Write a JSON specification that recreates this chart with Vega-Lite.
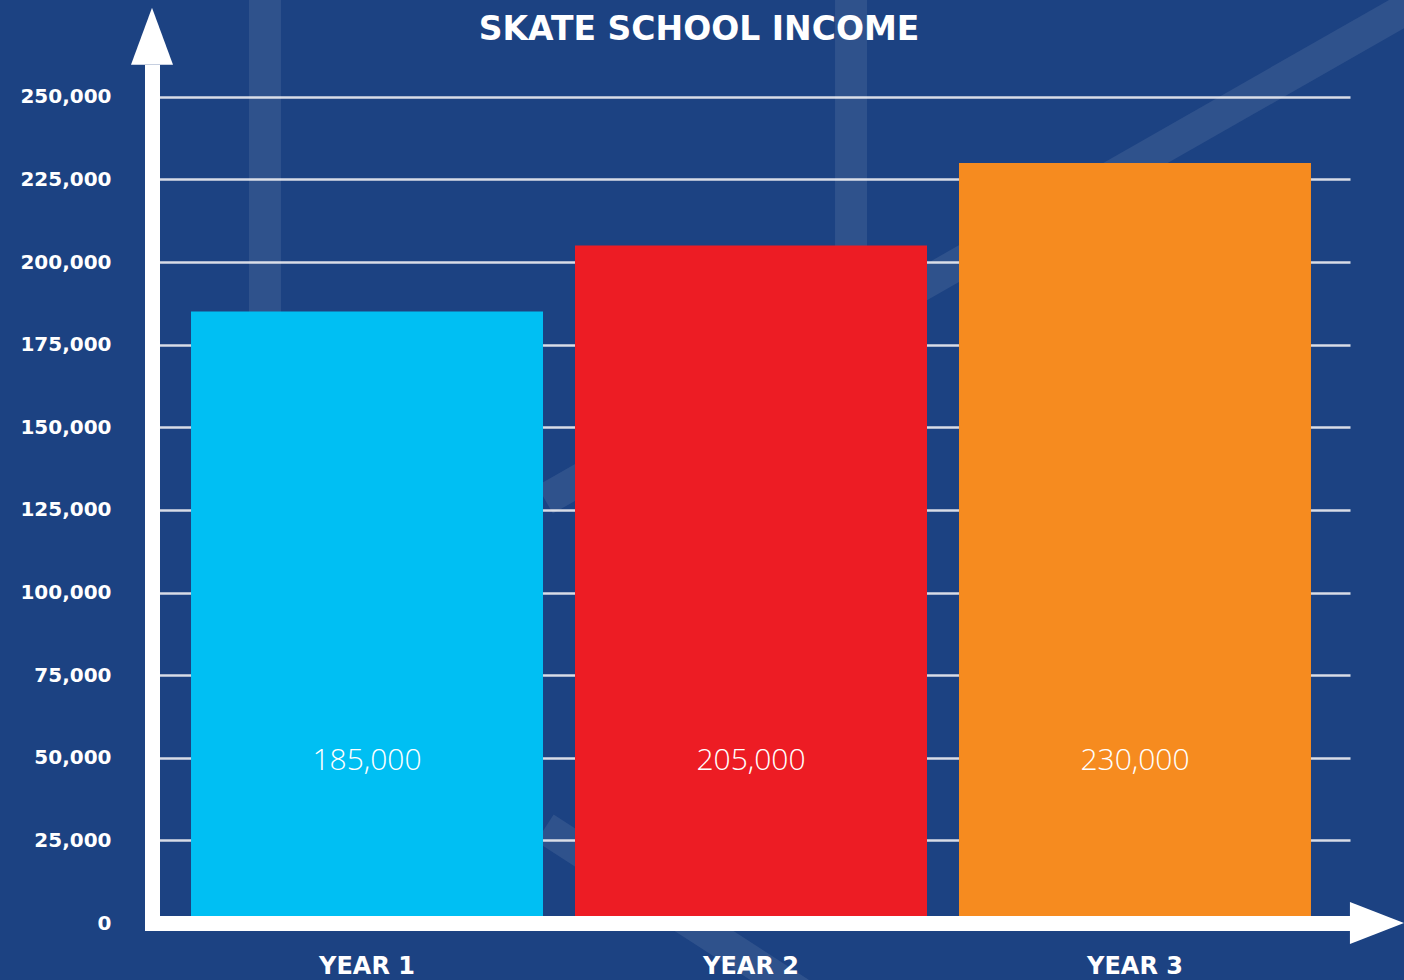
{
  "$schema": "https://vega.github.io/schema/vega-lite/v6.json",
  "width": 1198,
  "height": 851,
  "autosize": {"type": "none"},
  "padding": {"left": 152, "top": 72, "right": 54, "bottom": 57},
  "background": "#1c4282",
  "config": {
    "view": {"stroke": null},
    "axisY": {"format": ",", "labelExpr": "format(datum.value, ',')"}
  },
  "title": {
    "text": "SKATE SCHOOL INCOME",
    "font": "DejaVu Sans",
    "fontSize": 33,
    "fontWeight": "bold",
    "color": "white",
    "anchor": "middle",
    "dx": -52,
    "dy": 34,
    "offset": -40
  },
  "resolve": {"scale": {"x": "independent"}},
  "layer": [
    {
      "data": {
        "values": [
          {"dx": 0.0943, "dy": 282300, "dx2": 0.0943, "dy2": 0},
          {"dx": 0.5835, "dy": 282300, "dx2": 0.5835, "dy2": 0},
          {"dx": 1.0751, "dy": 282500, "dx2": 0.328, "dy2": 128100},
          {"dx": 0.328, "dy": 28750, "dx2": 0.5409, "dy2": -21200}
        ]
      },
      "mark": {"type": "rule", "color": "white", "opacity": 0.085, "strokeWidth": 32, "strokeCap": "butt"},
      "encoding": {
        "x": {"field": "dx", "type": "quantitative", "scale": {"domain": [0, 1], "nice": false, "zero": false}, "axis": null},
        "x2": {"field": "dx2"},
        "y": {
          "field": "dy",
          "type": "quantitative",
          "scale": {"domain": [0, 257500], "nice": false},
          "axis": {
            "title": null,
            "values": [0, 25000, 50000, 75000, 100000, 125000, 150000, 175000, 200000, 225000, 250000],
            "format": ",",
            "domain": true,
            "domainColor": "white",
            "domainWidth": 15,
            "domainCap": "square",
            "ticks": false,
            "grid": true,
            "gridColor": "#d8dce6",
            "gridWidth": 2.5,
            "gridOpacity": 1,
            "labelFont": "DejaVu Sans",
            "labelFontSize": 20,
            "labelFontWeight": "bold",
            "labelColor": "white",
            "labelPadding": 41,
            "zindex": 0
          }
        },
        "y2": {"field": "dy2"}
      }
    },
    {
      "data": {
        "values": [
          {"year": "YEAR 1", "income": 185000},
          {"year": "YEAR 2", "income": 205000},
          {"year": "YEAR 3", "income": 230000}
        ]
      },
      "layer": [
        {
          "mark": {"type": "bar"},
          "encoding": {
            "x": {
              "field": "year",
              "type": "nominal",
              "sort": null,
              "scale": {"paddingInner": 0.0833, "paddingOuter": 0.1016},
              "axis": {
                "title": null,
                "labelAngle": 0,
                "domain": true,
                "domainColor": "white",
                "domainWidth": 15,
                "domainCap": "square",
                "ticks": false,
                "labelFont": "DejaVu Sans",
                "labelFontSize": 24,
                "labelFontWeight": "bold",
                "labelColor": "white",
                "labelPadding": 31,
                "zindex": 1
              }
            },
            "y": {
              "field": "income",
              "type": "quantitative",
              "scale": {"domain": [0, 257500], "nice": false},
              "axis": {
                "title": null,
                "values": [0, 25000, 50000, 75000, 100000, 125000, 150000, 175000, 200000, 225000, 250000],
                "format": ",",
                "domain": true,
                "domainColor": "white",
                "domainWidth": 15,
                "domainCap": "square",
                "ticks": false,
                "grid": true,
                "gridColor": "#d8dce6",
                "gridWidth": 2.5,
                "gridOpacity": 1,
                "labelFont": "DejaVu Sans",
                "labelFontSize": 20,
                "labelFontWeight": "bold",
                "labelColor": "white",
                "labelPadding": 41,
                "zindex": 0
              }
            },
            "color": {
              "field": "year",
              "type": "nominal",
              "scale": {"domain": ["YEAR 1", "YEAR 2", "YEAR 3"], "range": ["#00bff3", "#ed1c24", "#f68b1f"]},
              "legend": null
            }
          }
        },
        {
          "mark": {"type": "text", "font": "Open Sans", "fontSize": 30, "fontWeight": 300, "color": "white", "baseline": "middle", "align": "center"},
          "encoding": {
            "x": {"field": "year", "type": "nominal", "sort": null},
            "y": {"datum": 49000},
            "text": {"field": "income", "type": "quantitative", "format": ","}
          }
        }
      ]
    },
    {
      "layer": [
        {
          "data": {"values": [{"ax": 0, "ay": 268300}]},
          "mark": {"type": "point", "shape": "M-0.737,1L0,-1L0.737,1Z", "filled": true, "size": 3249, "color": "white", "opacity": 1},
          "encoding": {
            "x": {"field": "ax", "type": "quantitative", "scale": {"domain": [0, 1], "nice": false, "zero": false}, "axis": null},
            "y": {
              "field": "ay",
              "type": "quantitative",
              "scale": {"domain": [0, 257500], "nice": false},
              "axis": {
                "title": null,
                "values": [0, 25000, 50000, 75000, 100000, 125000, 150000, 175000, 200000, 225000, 250000],
                "format": ",",
                "domain": true,
                "domainColor": "white",
                "domainWidth": 15,
                "domainCap": "square",
                "ticks": false,
                "grid": true,
                "gridColor": "#d8dce6",
                "gridWidth": 2.5,
                "gridOpacity": 1,
                "labelFont": "DejaVu Sans",
                "labelFontSize": 20,
                "labelFontWeight": "bold",
                "labelColor": "white",
                "labelPadding": 41,
                "zindex": 0
              }
            }
          }
        },
        {
          "data": {"values": [{"ax": 1.0225, "ay": 0}]},
          "mark": {"type": "point", "shape": "M-1,-0.778L1,0L-1,0.778Z", "filled": true, "size": 2916, "color": "white", "opacity": 1},
          "encoding": {
            "x": {"field": "ax", "type": "quantitative", "scale": {"domain": [0, 1], "nice": false, "zero": false}, "axis": null},
            "y": {
              "field": "ay",
              "type": "quantitative",
              "scale": {"domain": [0, 257500], "nice": false},
              "axis": {
                "title": null,
                "values": [0, 25000, 50000, 75000, 100000, 125000, 150000, 175000, 200000, 225000, 250000],
                "format": ",",
                "domain": true,
                "domainColor": "white",
                "domainWidth": 15,
                "domainCap": "square",
                "ticks": false,
                "grid": true,
                "gridColor": "#d8dce6",
                "gridWidth": 2.5,
                "gridOpacity": 1,
                "labelFont": "DejaVu Sans",
                "labelFontSize": 20,
                "labelFontWeight": "bold",
                "labelColor": "white",
                "labelPadding": 41,
                "zindex": 0
              }
            }
          }
        }
      ]
    }
  ]
}
